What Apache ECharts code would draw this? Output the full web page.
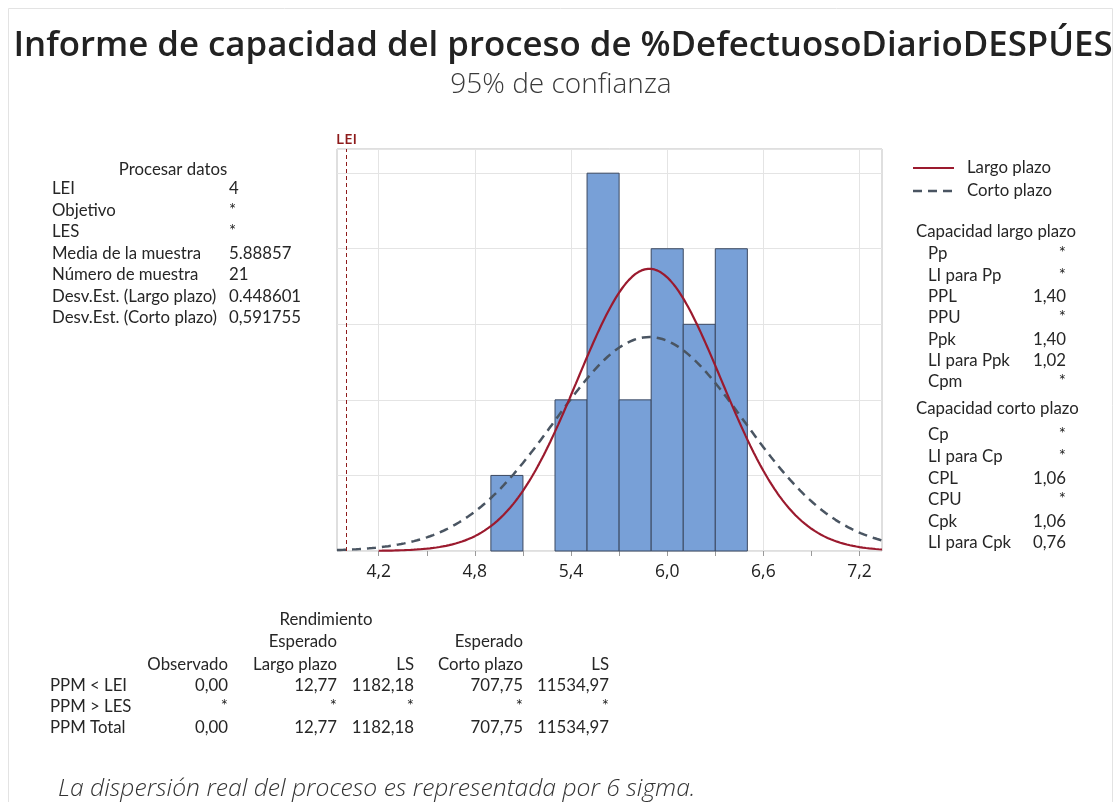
<!DOCTYPE html>
<html>
<head>
<meta charset="utf-8">
<script src="https://cdn.jsdelivr.net/npm/echarts@6/dist/echarts.min.js"></script>
<style>
  html, body { margin: 0; padding: 0; background: #ffffff; }
  #chart { width: 1119px; height: 802px; }
</style>
</head>
<body>
<div id="chart"></div>
<script>
// Histogram of daily % defective (after): bin edges and counts
const binEdges = [4.9, 5.1, 5.3, 5.5, 5.7, 5.9, 6.1, 6.3, 6.5];
const binCounts = [1, 0, 2, 5, 2, 4, 3, 4];

// Process statistics used for the fitted normal curves
const sampleMean = 5.88857;
const sampleSize = 21;
const sdLongTerm = 0.448601;
const sdShortTerm = 0.591755;
const lowerSpec = 4;

// Axis ticks and labels
const xTickValues = [4.2, 4.5, 4.8, 5.1, 5.4, 5.7, 6.0, 6.3, 6.6, 6.9, 7.2];
const xLabelValues = [4.2, 4.8, 5.4, 6.0, 6.6, 7.2];

// Side tables
const processLabels = ['LEI', 'Objetivo', 'LES', 'Media de la muestra', 'Número de muestra', 'Desv.Est. (Largo plazo)', 'Desv.Est. (Corto plazo)'];
const processValues = ['4', '*', '*', '5.88857', '21', '0.448601', '0,591755'];
const longTermLabels = ['Pp', 'LI para Pp', 'PPL', 'PPU', 'Ppk', 'LI para Ppk', 'Cpm'];
const longTermValues = ['*', '*', '1,40', '*', '1,40', '1,02', '*'];
const shortTermLabels = ['Cp', 'LI para Cp', 'CPL', 'CPU', 'Cpk', 'LI para Cpk'];
const shortTermValues = ['*', '*', '1,06', '*', '1,06', '0,76'];

// Yield table (PPM)
const yieldHeaders = ['Observado', 'Largo plazo', 'LS', 'Corto plazo', 'LS'];
const yieldRows = ['PPM < LEI', 'PPM > LES', 'PPM Total'];
const yieldObserved = ['0,00', '*', '0,00'];
const yieldLongExpected = ['12,77', '*', '12,77'];
const yieldLongUpper = ['1182,18', '*', '1182,18'];
const yieldShortExpected = ['707,75', '*', '707,75'];
const yieldShortUpper = ['11534,97', '*', '11534,97'];

// Legend entries
const legendNames = ['Largo plazo', 'Corto plazo'];

const FONT = '"Open Sans", "Noto Sans", sans-serif';
const TABLE_FONT = 'Lato, "Open Sans", sans-serif';
const TEXT_COLOR = '#262626';
const RED = '#9b1a2e';
const GREY = '#4a5562';
const TABLE_SIZE = 16.8;
const binWidth = binEdges[1] - binEdges[0];

// Normal density scaled to histogram counts
function fittedCurve(sd, from, to, step) {
  const pts = [];
  const n = Math.round((to - from) / step);
  for (let i = 0; i <= n; i++) {
    const x = from + i * step;
    const z = (x - sampleMean) / sd;
    pts.push([x, sampleSize * binWidth * Math.exp(-0.5 * z * z) / (sd * Math.sqrt(2 * Math.PI))]);
  }
  return pts;
}

const X_MIN = 3.94, X_MAX = 7.34;

function txt(x, y, text, opts) {
  opts = opts || {};
  return {
    type: 'text', x: x, y: y, silent: true,
    style: {
      text: text,
      fill: opts.fill || TEXT_COLOR,
      font: (opts.style || 'normal') + ' ' + (opts.weight || 'normal') + ' ' + (opts.size || TABLE_SIZE) + 'px ' + (opts.family || TABLE_FONT),
      align: opts.align || 'left',
      verticalAlign: 'middle'
    }
  };
}

const graphics = [];
// Outer frame
graphics.push({
  type: 'rect', silent: true, z: -10,
  shape: { x: 8.5, y: 8.5, width: 1104, height: 800 },
  style: { fill: 'none', stroke: '#e3e3e3', lineWidth: 1 }
});

// Title block
graphics.push(txt(563, 46, 'Informe de capacidad del proceso de %DefectuosoDiarioDESPÚES', { size: 34.8, weight: 600, align: 'center', fill: '#222', family: FONT }));
graphics.push(txt(561, 85, '95% de confianza', { size: 28, weight: 300, align: 'center', fill: '#3a3a3a', family: FONT }));

// Process data table
graphics.push(txt(173, 170, 'Procesar datos', { align: 'center' }));
processLabels.forEach((l, i) => {
  graphics.push(txt(52, 189 + i * 21.5, l));
  graphics.push(txt(229, 189 + i * 21.5, processValues[i]));
});

// Legend (line samples + names)
legendNames.forEach((name, i) => {
  const y = 168 + i * 23;
  graphics.push({
    type: 'line', silent: true,
    shape: { x1: 913, y1: y, x2: 954, y2: y },
    style: i === 0 ? { stroke: RED, lineWidth: 2 } : { stroke: GREY, lineWidth: 2.5, lineDash: [9, 6] }
  });
  graphics.push(txt(967, y, name));
});

// Capability tables
graphics.push(txt(916, 232, 'Capacidad largo plazo'));
longTermLabels.forEach((l, i) => {
  graphics.push(txt(928, 254 + i * 21.3, l));
  graphics.push(txt(1066, 254 + i * 21.3, longTermValues[i], { align: 'right' }));
});
graphics.push(txt(916, 409, 'Capacidad corto plazo'));
shortTermLabels.forEach((l, i) => {
  graphics.push(txt(928, 435 + i * 21.6, l));
  graphics.push(txt(1066, 435 + i * 21.6, shortTermValues[i], { align: 'right' }));
});

// Yield table
const yieldColRight = [228, 337, 414, 523, 609];
graphics.push(txt(326, 620, 'Rendimiento', { align: 'center' }));
graphics.push(txt(337, 642, 'Esperado', { align: 'right' }));
graphics.push(txt(523, 642, 'Esperado', { align: 'right' }));
yieldHeaders.forEach((h, j) => graphics.push(txt(yieldColRight[j], 665, h, { align: 'right' })));
const yieldCols = [yieldObserved, yieldLongExpected, yieldLongUpper, yieldShortExpected, yieldShortUpper];
yieldRows.forEach((r, i) => {
  const y = 686 + i * 21;
  graphics.push(txt(50, y, r));
  yieldCols.forEach((col, j) => graphics.push(txt(yieldColRight[j], y, col[i], { align: 'right' })));
});

// Footnote
graphics.push(txt(58, 789, 'La dispersión real del proceso es representada por 6 sigma.', { size: 24.7, weight: 300, style: 'italic', fill: '#333', family: FONT }));

const chart = echarts.init(document.getElementById('chart'), null, { renderer: 'canvas' });
chart.setOption({
  animation: false,
  backgroundColor: '#ffffff',
  textStyle: { fontFamily: FONT },
  grid: {
    left: 337, top: 149, width: 545, height: 402,
    show: true, borderColor: '#bfbfbf', borderWidth: 1, backgroundColor: 'transparent'
  },
  xAxis: [{
    type: 'value', min: X_MIN, max: X_MAX,
    axisLine: { show: false },
    axisTick: { show: true, customValues: xLabelValues, length: 5, lineStyle: { color: '#9a9a9a' } },
    axisLabel: {
      customValues: xLabelValues, margin: 12, fontSize: 17.5, color: '#222', fontFamily: FONT,
      formatter: v => v.toFixed(1).replace('.', ',')
    },
    splitLine: { show: true, lineStyle: { color: '#e4e4e4', width: 1 } }
  }, {
    type: 'value', min: X_MIN, max: X_MAX, position: 'bottom',
    axisLine: { show: false },
    axisTick: { show: true, customValues: xTickValues, length: 5, lineStyle: { color: '#9a9a9a' } },
    axisLabel: { show: false },
    splitLine: { show: false }
  }],
  yAxis: {
    type: 'value', min: 0, max: 5.32, interval: 1,
    axisLine: { show: false }, axisTick: { show: false }, axisLabel: { show: false },
    splitLine: { show: true, lineStyle: { color: '#e4e4e4', width: 1 } }
  },
  graphic: graphics,
  series: [{
    name: 'Histograma',
    type: 'custom',
    xAxisIndex: 0,
    encode: { x: [0, 1], y: 2 },
    data: binCounts.map((c, i) => [binEdges[i], binEdges[i + 1], c]),
    renderItem: function (params, api) {
      const c = api.value(2);
      if (!c) return null;
      const p0 = api.coord([api.value(0), c]);
      const p1 = api.coord([api.value(1), 0]);
      return {
        type: 'rect',
        shape: { x: p0[0], y: p0[1], width: p1[0] - p0[0], height: p1[1] - p0[1] },
        style: { fill: '#78a0d7', stroke: '#3b4860', lineWidth: 1 }
      };
    },
    z: 2
  }, {
    name: legendNames[1],
    type: 'line',
    xAxisIndex: 0,
    data: fittedCurve(sdShortTerm, X_MIN, X_MAX, 0.01),
    showSymbol: false, symbol: 'none', smooth: false,
    lineStyle: { color: GREY, width: 2.5, type: [9, 6] },
    itemStyle: { color: GREY },
    z: 3,
    markLine: {
      silent: true, symbol: 'none',
      lineStyle: { color: '#8e1b1b', width: 1, type: [4, 3] },
      label: { show: true, position: 'end', formatter: 'LEI', color: '#8e1b1b', fontSize: 15, fontWeight: 600, distance: 2, fontFamily: FONT },
      data: [{ xAxis: lowerSpec }]
    }
  }, {
    name: legendNames[0],
    type: 'line',
    xAxisIndex: 0,
    data: fittedCurve(sdLongTerm, 4.2, X_MAX, 0.01),
    showSymbol: false, symbol: 'none', smooth: false,
    lineStyle: { color: RED, width: 2.2 },
    itemStyle: { color: RED },
    z: 4
  }]
});
</script>
</body>
</html>
